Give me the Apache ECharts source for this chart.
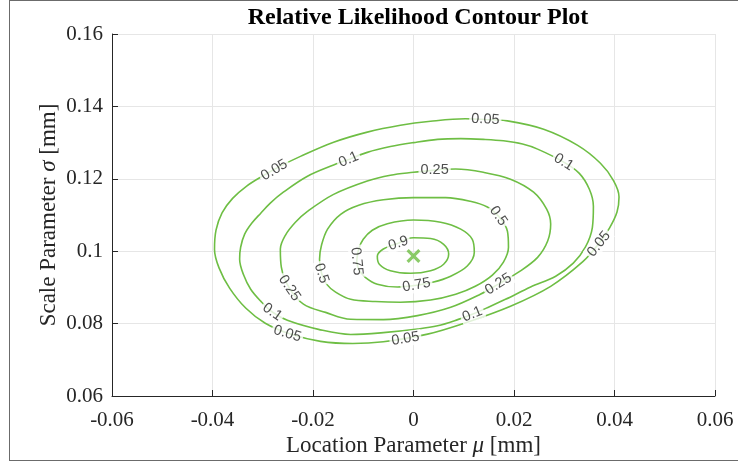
<!DOCTYPE html>
<html>
<head>
<meta charset="utf-8">
<script src="https://cdn.jsdelivr.net/npm/echarts@6/dist/echarts.min.js"></script>
<style>
html,body{margin:0;padding:0;background:#fff;}
#chart{position:absolute;left:0;top:0;width:738px;height:463px;}
#frame{position:absolute;left:9px;top:0;width:760px;height:461px;border:1.5px solid #6b6b6b;border-right:none;box-sizing:border-box;pointer-events:none;}
</style>
</head>
<body>
<div id="chart"></div>
<div id="frame"></div>
<script>
// ---- data ----
const xTickLabels = ['-0.06', '-0.04', '-0.02', '0', '0.02', '0.04', '0.06'];
const yTickLabels = ['0.06', '0.08', '0.1', '0.12', '0.14', '0.16'];
const levels = ['0.05', '0.1', '0.25', '0.5', '0.75', '0.9'];

const contour005 = [
  [0.0143,0.1364],[0.0187,0.1360],[0.0259,0.1337],[0.0326,0.1293],[0.0372,0.1243],[0.0398,0.1195],
  [0.0409,0.1150],[0.0405,0.1108],[0.0390,0.1064],[0.0367,0.1018],[0.0337,0.0971],[0.0273,0.0903],
  [0.0193,0.0848],[0.0107,0.0804],[0.0028,0.0771],[-0.0060,0.0750],[-0.0121,0.0745],[-0.0185,0.0751],
  [-0.0245,0.0771],[-0.0295,0.0801],[-0.0334,0.0843],[-0.0366,0.0898],[-0.0387,0.0954],[-0.0396,0.1005],
  [-0.0393,0.1058],[-0.0381,0.1106],[-0.0360,0.1146],[-0.0332,0.1180],[-0.0300,0.1208],[-0.0265,0.1235],
  [-0.0225,0.1262],[-0.0159,0.1301],[-0.0092,0.1329],[-0.0026,0.1348],[0.0034,0.1359],[0.0103,0.1366],
  [0.0143,0.1364]
];
const contour010 = [
  [-0.0129,0.1253],[-0.0092,0.1273],[-0.0046,0.1289],[0.0000,0.1300],[0.0048,0.1309],[0.0094,0.1311],
  [0.0139,0.1309],[0.0179,0.1305],[0.0217,0.1296],[0.0247,0.1282],[0.0299,0.1246],[0.0330,0.1215],
  [0.0350,0.1171],[0.0358,0.1124],[0.0356,0.1066],[0.0342,0.1011],[0.0318,0.0967],[0.0283,0.0931],
  [0.0233,0.0901],[0.0183,0.0867],[0.0147,0.0844],[0.0117,0.0826],[0.0088,0.0811],[0.0048,0.0794],
  [0.0008,0.0785],[-0.0060,0.0775],[-0.0125,0.0770],[-0.0189,0.0784],[-0.0251,0.0809],[-0.0281,0.0832],
  [-0.0304,0.0862],[-0.0324,0.0895],[-0.0338,0.0934],[-0.0346,0.0978],[-0.0344,0.1011],[-0.0336,0.1047],
  [-0.0322,0.1077],[-0.0304,0.1105],[-0.0285,0.1133],[-0.0259,0.1163],[-0.0211,0.1207],[-0.0159,0.1238],
  [-0.0129,0.1253]
];
const contour025 = [
  [0.0042,0.1224],[0.0084,0.1227],[0.0139,0.1218],[0.0193,0.1199],[0.0239,0.1163],[0.0265,0.1116],
  [0.0273,0.1075],[0.0267,0.1028],[0.0247,0.0983],[0.0209,0.0942],[0.0169,0.0909],[0.0133,0.0881],
  [0.0074,0.0845],[0.0008,0.0822],[-0.0060,0.0811],[-0.0125,0.0812],[-0.0175,0.0831],[-0.0219,0.0854],
  [-0.0247,0.0898],[-0.0263,0.0956],[-0.0265,0.1006],[-0.0255,0.1044],[-0.0235,0.1080],[-0.0211,0.1110],
  [-0.0159,0.1157],[-0.0092,0.1194],[-0.0046,0.1210],[0.0000,0.1218],[0.0042,0.1224]
];
const contour050 = [
  [0.0169,0.1097],[0.0187,0.1055],[0.0189,0.1011],[0.0179,0.0970],[0.0157,0.0934],[0.0123,0.0903],
  [0.0084,0.0881],[0.0034,0.0865],[-0.0026,0.0859],[-0.0076,0.0861],[-0.0125,0.0867],[-0.0155,0.0887],
  [-0.0173,0.0909],[-0.0183,0.0939],[-0.0187,0.0978],[-0.0183,0.1017],[-0.0171,0.1061],[-0.0145,0.1102],
  [-0.0109,0.1127],[-0.0060,0.1142],[0.0000,0.1148],[0.0064,0.1148],[0.0113,0.1138],[0.0147,0.1122],
  [0.0169,0.1097]
];
const contour075 = [
  [-0.0113,0.0972],[-0.0109,0.1006],[-0.0100,0.1033],[-0.0082,0.1058],[-0.0052,0.1076],[0.0000,0.1086],
  [0.0054,0.1080],[0.0094,0.1061],[0.0117,0.1033],[0.0121,0.0997],[0.0107,0.0959],[0.0074,0.0931],
  [0.0038,0.0914],[0.0006,0.0906],[-0.0032,0.0901],[-0.0072,0.0909],[-0.0096,0.0928],[-0.0109,0.0950],
  [-0.0113,0.0972]
];
const contour090 = [
  [-0.0030,0.1022],[0.0000,0.1037],[0.0034,0.1035],[0.0060,0.1019],[0.0070,0.0992],[0.0060,0.0964],
  [0.0034,0.0946],[-0.0006,0.0939],[-0.0046,0.0946],[-0.0068,0.0964],[-0.0072,0.0986],[-0.0060,0.1006],
  [-0.0030,0.1022]
];
const contours = [contour005, contour010, contour025, contour050, contour075, contour090];

// contour label anchors [x, y, text]
const labelPoints = [
  [0.0143,0.1364,'0.05'],[-0.0277,0.1224,'0.05'],[0.0369,0.1020,'0.05'],[-0.0016,0.0758,'0.05'],[-0.0251,0.0772,'0.05'],
  [-0.0129,0.1253,'0.1'],[0.0299,0.1246,'0.1'],[0.0117,0.0826,'0.1'],[-0.0281,0.0832,'0.1'],
  [0.0042,0.1224,'0.25'],[0.0169,0.0909,'0.25'],[-0.0247,0.0898,'0.25'],
  [0.0169,0.1097,'0.5'],[-0.0183,0.0939,'0.5'],
  [-0.0113,0.0972,'0.75'],[0.0006,0.0906,'0.75'],
  [-0.0030,0.1022,'0.9']
];
const peak = [0.0, 0.0987];

// ---- styles ----
const labelAngles = [-3, 31, 51, 9, -17, 23, -32, 22, -35, 0, 32, -56, -55, -72, -84, 10, 18];
const green = '#6ebe44';
const axisColor = '#262626';
const serif = 'Liberation Serif, Times New Roman, serif';

const chart = echarts.init(document.getElementById('chart'), null, {renderer: 'canvas'});

const series = contours.map((pts, i) => ({
  name: levels[i],
  type: 'line',
  data: pts,
  smooth: 0.35,
  showSymbol: false,
  silent: true,
  lineStyle: {color: green, width: 1.6},
  z: 3
}));

series.push({
  type: 'scatter',
  silent: true,
  symbolSize: 1,
  itemStyle: {color: 'rgba(0,0,0,0)'},
  z: 6,
  labelLayout: {hideOverlap: false},
  data: labelPoints.map((p, i) => ({
    value: [p[0], p[1]],
    name: p[2],
    label: {rotate: labelAngles[i]}
  })),
  label: {
    show: true,
    position: 'inside',
    formatter: '{b}',
    fontFamily: 'Liberation Sans, Arial, sans-serif',
    fontSize: 14.5,
    color: '#222',
    backgroundColor: '#fff',
    padding: [0, 2]
  }
});

series.push({
  type: 'scatter',
  silent: true,
  data: [peak],
  symbol: 'path://M0,1.6 L1.6,0 L5,3.4 L8.4,0 L10,1.6 L6.6,5 L10,8.4 L8.4,10 L5,6.6 L1.6,10 L0,8.4 L3.4,5 Z',
  symbolSize: 14,
  itemStyle: {color: green},
  z: 7
});

const xMin = -0.06, xStep = 0.02, yMin = 0.06, yStep = 0.02;

chart.setOption({
  animation: false,
  backgroundColor: '#fff',
  title: {
    text: 'Relative Likelihood Contour Plot',
    left: 413,
    top: 1,
    textAlign: 'center',
    textStyle: {fontFamily: serif, fontWeight: 'bold', fontSize: 24, color: '#000'}
  },
  grid: {left: 112, right: 23, top: 34, bottom: 67, containLabel: false},
  xAxis: {
    type: 'value', min: -0.06, max: 0.06, interval: 0.02,
    axisLine: {show: true, onZero: false, lineStyle: {color: axisColor, width: 1}},
    axisTick: {show: true, inside: true, length: 6, lineStyle: {color: axisColor}},
    splitLine: {show: true, lineStyle: {color: '#e6e6e6', width: 1}},
    axisLabel: {
      show: true, showMinLabel: true, showMaxLabel: true, hideOverlap: false,
      margin: 14, fontFamily: serif, fontSize: 21, color: axisColor,
      formatter: v => xTickLabels[Math.round((v - xMin) / xStep)]
    },
    name: 'Location Parameter {i|μ} [mm]',
    nameLocation: 'middle', nameGap: 38, nameMoveOverlap: false,
    nameTextStyle: {fontFamily: serif, fontSize: 23, color: axisColor,
      rich: {i: {fontFamily: serif, fontSize: 23, fontStyle: 'italic', color: axisColor}}}
  },
  yAxis: {
    type: 'value', min: 0.06, max: 0.16, interval: 0.02,
    axisLine: {show: true, onZero: false, lineStyle: {color: axisColor, width: 1}},
    axisTick: {show: true, inside: true, length: 6, lineStyle: {color: axisColor}},
    splitLine: {show: true, lineStyle: {color: '#e6e6e6', width: 1}},
    axisLabel: {
      show: true, showMinLabel: true, showMaxLabel: true, hideOverlap: false,
      margin: 9, fontFamily: serif, fontSize: 21, color: axisColor,
      formatter: v => yTickLabels[Math.round((v - yMin) / yStep)]
    },
    name: 'Scale Parameter {i|σ} [mm]',
    nameLocation: 'middle', nameGap: 52, nameMoveOverlap: false,
    nameTextStyle: {fontFamily: serif, fontSize: 23, color: axisColor,
      rich: {i: {fontFamily: serif, fontSize: 23, fontStyle: 'italic', color: axisColor}}}
  },
  series: series
});
</script>
</body>
</html>
